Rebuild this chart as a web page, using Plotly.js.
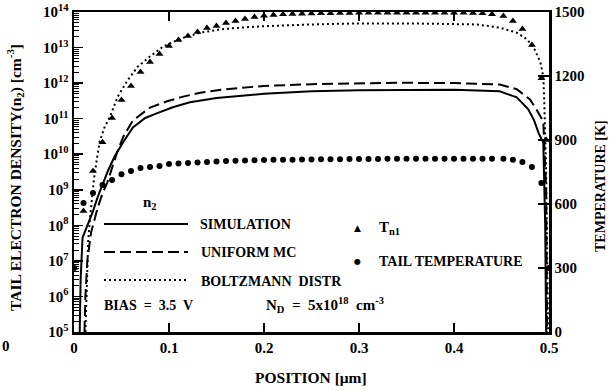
<!DOCTYPE html>
<html><head><meta charset="utf-8">
<script src="https://cdn.plot.ly/plotly-3.0.1.min.js"></script>
<style>html,body{margin:0;padding:0;background:#fff;} #chart{width:614px;height:390px;}</style>
</head><body><div id="chart"></div>
<script>
// ---- n2 curves (log10 of density, cm^-3) ----
const simX = [0.006,0.007,0.009,0.012,0.015,0.02,0.025,0.03,0.036,0.043,0.052,0.062,0.075,0.087,0.104,0.122,0.15,0.2,0.25,0.3,0.35,0.4,0.448,0.466,0.478,0.484,0.489,0.494,0.496,0.497];
const simLogN = [5.0,6.5,7.65,7.85,8.05,8.4,8.8,9.15,9.55,9.95,10.35,10.75,11.02,11.15,11.32,11.46,11.58,11.7,11.77,11.8,11.81,11.81,11.77,11.6,11.27,10.97,10.6,10.32,8.0,5.0];

const umcX = [0.011,0.012,0.014,0.018,0.025,0.03,0.035,0.04,0.046,0.052,0.062,0.08,0.098,0.115,0.133,0.16,0.2,0.25,0.3,0.343,0.4,0.448,0.466,0.48,0.487,0.491,0.494,0.497,0.498];
const umcLogN = [5.0,6.0,7.0,7.8,8.5,8.9,9.2,9.6,10.1,10.5,10.95,11.31,11.49,11.62,11.73,11.83,11.92,11.97,12.0,12.01,12.0,11.96,11.83,11.54,11.25,11.06,10.92,9.0,5.0];

const bolX = [0.012,0.013,0.014,0.015,0.017,0.019,0.021,0.024,0.027,0.032,0.038,0.046,0.057,0.067,0.08,0.094,0.112,0.133,0.154,0.175,0.2,0.25,0.3,0.35,0.4,0.424,0.448,0.466,0.477,0.485,0.491,0.494,0.495,0.497,0.499];
const bolLogN = [5.0,6.0,7.0,7.6,8.24,8.8,9.3,9.85,10.35,10.75,11.06,11.62,12.1,12.46,12.75,13.03,13.25,13.42,13.51,13.56,13.6,13.65,13.68,13.68,13.67,13.65,13.56,13.42,13.23,12.94,12.58,12.18,11.5,9.5,5.0];

// ---- temperatures (K) ----
const tn1X = [0,0.01,0.02,0.03,0.04,0.05,0.06,0.07,0.08,0.09,0.1,0.11,0.12,0.13,0.14,0.15,0.16,0.17,0.18,0.19,0.2,0.21,0.22,0.23,0.24,0.25,0.26,0.27,0.28,0.29,0.3,0.31,0.32,0.33,0.34,0.35,0.36,0.37,0.38,0.39,0.4,0.41,0.42,0.43,0.44,0.452,0.462,0.472,0.482,0.492,0.497];
const tn1T = [300,567,755,890,1003,1087,1153,1219,1266,1303,1341,1369,1387,1406,1425,1434,1448,1458,1467,1477,1482,1486,1489,1491,1492,1493,1494,1494,1495,1495,1496,1496,1496,1497,1497,1497,1497,1497,1497,1496,1496,1496,1495,1494,1490,1481,1458,1420,1345,1190,900];

const tailX = [0,0.01,0.02,0.03,0.04,0.05,0.06,0.07,0.08,0.09,0.1,0.11,0.12,0.13,0.14,0.15,0.16,0.17,0.18,0.19,0.2,0.21,0.22,0.23,0.24,0.25,0.26,0.27,0.28,0.29,0.3,0.31,0.32,0.33,0.34,0.35,0.36,0.37,0.38,0.39,0.4,0.41,0.42,0.43,0.44,0.452,0.462,0.472,0.482,0.492,0.5];
const tailT = [300,605,652,689,712,740,755,769,774,778,787,790,792,795,797,799,801,803,804,805,806,807,808,808,809,809,810,810,810,811,811,811,811,812,812,812,812,812,812,812,812,812,812,812,812,812,808,797,773,698,300];

// ---- ticks ----
const xTickVals = [0,0.1,0.2,0.3,0.4,0.5];
const xTickText = ['0','0.1','0.2','0.3','0.4','0.5'];
const yTickVals = [1e5,1e6,1e7,1e8,1e9,1e10,1e11,1e12,1e13,1e14];
const yTickText = ['10<sup>5</sup>','10<sup>6</sup>','10<sup>7</sup>','10<sup>8</sup>','10<sup>9</sup>','10<sup>10</sup>','10<sup>11</sup>','10<sup>12</sup>','10<sup>13</sup>','10<sup>14</sup>'];
const tTickVals = [0,300,600,900,1200,1500];
const tTickText = ['0','300','600','900','1200','1500'];

const toN = a => a.map(v => Math.pow(10, v));
const FONT = 'Liberation Serif, Times New Roman, serif';

const traces = [
  {x: simX, y: toN(simLogN), type:'scatter', mode:'lines', line:{color:'#000', width:2}, yaxis:'y', name:'SIMULATION'},
  {x: umcX, y: toN(umcLogN), type:'scatter', mode:'lines', line:{color:'#000', width:2, dash:'11px,5px'}, yaxis:'y', name:'UNIFORM MC'},
  {x: bolX, y: toN(bolLogN), type:'scatter', mode:'lines', line:{color:'#000', width:2, dash:'2px,3px'}, yaxis:'y', name:'BOLTZMANN DISTR'},
  {x: tn1X, y: tn1T, type:'scatter', mode:'markers', marker:{symbol:'triangle-up', size:7, color:'#000'}, yaxis:'y2', name:'Tn1'},
  {x: tailX, y: tailT, type:'scatter', mode:'markers', marker:{symbol:'circle', size:6, color:'#000'}, yaxis:'y2', name:'TAIL TEMPERATURE'}
];

const px = p => (p - 74) / 475;   // pixel -> paper x
const py = p => (332 - p) / 320;  // pixel -> paper y

const F = (size) => ({family:FONT, size:size, color:'#000', weight:'bold'});
const ann = (text, x, y, opts) => Object.assign({text, xref:'paper', yref:'paper', x: px(x), y: py(y), xanchor:'left', yanchor:'middle', showarrow:false, font:F(14)}, opts || {});

const annotations = [
  ann('TAIL ELECTRON DENSITY(n<sub>2</sub>) [cm<sup>-3</sup>]', 15, 178, {xanchor:'center', textangle:-90, font:F(15.5)}),
  ann('TEMPERATURE [K]', 600, 186, {xanchor:'center', textangle:-90, font:F(14)}),
  ann('POSITION [μm]', 311, 377, {xanchor:'center', font:F(15.5)}),
  ann('0', 6, 346, {xanchor:'center', font:F(15)}),
  ann('n<sub>2</sub>', 141, 203, {font:F(15)}),
  ann('SIMULATION', 198, 224),
  ann('UNIFORM MC', 199, 252),
  ann('BOLTZMANN  DISTR', 199, 281),
  ann('BIAS  =  3.5  V', 102, 305),
  ann('N<sub>D</sub>  =  5x10<sup>18</sup>  cm<sup>-3</sup>', 264, 305, {font:F(15)}),
  ann('▲', 357, 228, {xanchor:'center', font:{family:'DejaVu Sans', size:9, color:'#000'}}),
  ann('T<sub>n1</sub>', 377, 228, {font:F(15)}),
  ann('●', 357, 261, {xanchor:'center', font:{family:'DejaVu Sans', size:8, color:'#000'}}),
  ann('TAIL TEMPERATURE', 377, 261)
];

const seg = (x0, x1, y, dash) => ({type:'line', xref:'paper', yref:'paper', x0:px(x0), x1:px(x1), y0:py(y), y1:py(y), line:{color:'#000', width:2, dash: dash}});
const shapes = [
  seg(104, 188, 224, 'solid'),
  seg(104, 188, 252, '11px,5px'),
  seg(104, 188, 280, '2px,3px')
];

const layout = {
  width:614, height:390,
  margin:{l:74, r:65, t:12, b:58, pad:0},
  paper_bgcolor:'#fff', plot_bgcolor:'#fff',
  showlegend:false,
  font:F(14),
  xaxis:{range:[0,0.5], tickvals:xTickVals, ticktext:xTickText, ticks:'inside', ticklen:9, tickwidth:1.5, tickcolor:'#000',
         showline:true, linewidth:2.5, linecolor:'#000', mirror:'ticks', showgrid:false, zeroline:false,
         tickfont:F(15), fixedrange:true},
  yaxis:{type:'log', range:[5,14], tickvals:yTickVals, ticktext:yTickText, ticks:'inside', ticklen:9, tickwidth:1.5, tickcolor:'#000',
         minor:{ticks:'inside', ticklen:5, tickwidth:1, tickcolor:'#000', dtick:'D1', showgrid:false},
         showline:true, linewidth:2.5, linecolor:'#000', showgrid:false, zeroline:false,
         tickfont:F(15)},
  yaxis2:{overlaying:'y', side:'right', range:[0,1500], tickvals:tTickVals, ticktext:tTickText, ticks:'inside', ticklen:11, tickwidth:1.5, tickcolor:'#000',
          showline:true, linewidth:2.5, linecolor:'#000', showgrid:false, zeroline:false,
          tickfont:F(15)},
  annotations, shapes
};

Plotly.newPlot('chart', traces, layout, {staticPlot:true, displayModeBar:false});
</script></body></html>
